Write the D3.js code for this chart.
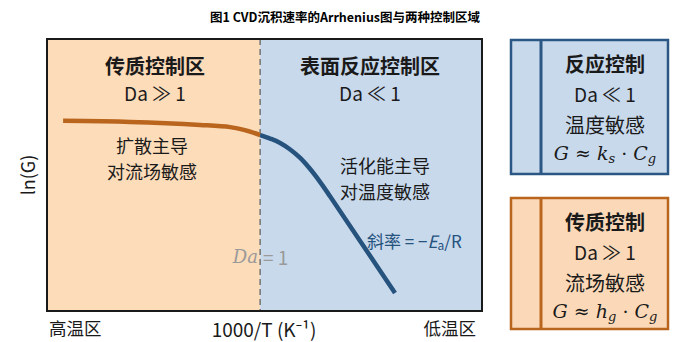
<!DOCTYPE html>
<html>
<head>
<meta charset="utf-8">
<script src="https://cdn.jsdelivr.net/npm/d3@7"></script>
<style>
  body { margin: 0; background: #fff; }
  svg { display: block; }
  text { font-family: "Noto Sans CJK SC", "Noto Sans", sans-serif; }
</style>
</head>
<body>
<div class="container"></div>
<script>
// data (arbitrary units: x = 1000/T, y = ln(G))
const transferCurve = [[3.7, 69.9], [19.1, 69.5], [35.2, 68.4], [42.1, 67.6], [45.5, 66.5], [49.0, 64.7]]
const reactionCurve = [[49.0, 64.7], [51.3, 63.4], [53.6, 61.8], [55.9, 59.4], [58.2, 56.3],
  [60.5, 52.2], [62.8, 47.4], [65.1, 42.1], [80.0, 6.6]]
const daOne = 49.0
const xLabels = ['高温区', '1000/T (K⁻¹)', '低温区']

const width = 689, height = 342
const svg = d3.select('.container').append('svg').attr('width', width).attr('height', height)

const x = d3.scaleLinear().domain([0, 100]).range([47, 482])
const y = d3.scaleLinear().domain([0, 100]).range([311, 39])

// title
svg.append('text').attr('x', 345).attr('y', 22).attr('text-anchor', 'middle')
  .style('font-size', '12.5px').style('font-weight', 'bold').text('图1 CVD沉积速率的Arrhenius图与两种控制区域')

// regions
svg.append('rect').attr('x', x(0)).attr('y', y(100)).attr('width', x(daOne) - x(0)).attr('height', y(0) - y(100))
  .attr('fill', '#fddcb9')
svg.append('rect').attr('x', x(daOne)).attr('y', y(100)).attr('width', x(100) - x(daOne)).attr('height', y(0) - y(100))
  .attr('fill', '#c8d9ec')
svg.append('line').attr('x1', x(daOne)).attr('x2', x(daOne)).attr('y1', y(100)).attr('y2', y(0))
  .attr('stroke', '#7a7a7a').attr('stroke-width', 1.6).attr('stroke-dasharray', '6,4')

// curves
const line = d3.line().x(d => x(d[0])).y(d => y(d[1])).curve(d3.curveCatmullRom)
svg.append('path').attr('d', line(transferCurve)).attr('fill', 'none')
  .attr('stroke', '#b9651d').attr('stroke-width', 4.5)
svg.append('path').attr('d', line(reactionCurve)).attr('fill', 'none')
  .attr('stroke', '#26527e').attr('stroke-width', 4.5)

// frame
svg.append('rect').attr('x', x(0)).attr('y', y(100)).attr('width', x(100) - x(0)).attr('height', y(0) - y(100))
  .attr('fill', 'none').attr('stroke', '#1a1a1a').attr('stroke-width', 2)

function label(tx, ty, str, size, opts) {
  opts = opts || {}
  return svg.append('text').attr('x', tx).attr('y', ty).attr('text-anchor', opts.anchor || 'middle')
    .attr('dominant-baseline', 'central')
    .style('font-size', size + 'px').style('font-weight', opts.bold ? 'bold' : 'normal')
    .attr('fill', opts.fill || '#1a1a1a').text(str)
}

// region texts
label(155, 65, '传质控制区', 20, {bold: true})
label(155, 92, 'Da ≫ 1', 19)
label(152, 145, '扩散主导', 18)
label(152, 171, '对流场敏感', 18)

label(370, 65, '表面反应控制区', 20, {bold: true})
label(370, 92, 'Da ≪ 1', 19)
label(385, 165, '活化能主导', 18)
label(385, 191, '对温度敏感', 18)

// slope label
const slope = svg.append('text').attr('x', 367).attr('y', 240).attr('dominant-baseline', 'central')
  .style('font-size', '17px').attr('fill', '#26527e')
slope.append('tspan').text('斜率 = −')
slope.append('tspan').style('font-style', 'italic').text('E')
slope.append('tspan').attr('dy', 4).style('font-size', '12px').text('a')
slope.append('tspan').attr('dy', -4).text('/R')

// Da = 1 (dashed line runs between "Da" and "= 1")
label(258, 256, 'Da', 18, {anchor: 'end', fill: '#9a9a9a'})
  .style('font-family', '"DejaVu Serif", serif').style('font-style', 'italic')
label(263, 256, '= 1', 19, {anchor: 'start', fill: '#9a9a9a'})

// axis labels
label(49, 327, xLabels[0], 17.5, {anchor: 'start'})
label(264, 328, xLabels[1], 19)
label(476, 327, xLabels[2], 17.5, {anchor: 'end'})
svg.append('text').attr('transform', 'translate(27,175) rotate(-90)').attr('text-anchor', 'middle')
  .attr('dominant-baseline', 'central').style('font-size', '18px').attr('fill', '#1a1a1a').text('ln(G)')

// side boxes
function box(top, bottom, fill, stroke, lines, sub) {
  svg.append('rect').attr('x', 511).attr('y', top).attr('width', 157).attr('height', bottom - top)
    .attr('fill', fill).attr('stroke', stroke).attr('stroke-width', 2.5)
  svg.append('line').attr('x1', 541).attr('x2', 541).attr('y1', top).attr('y2', bottom)
    .attr('stroke', stroke).attr('stroke-width', 3)
  const cx = 605
  label(cx, top + 23, lines[0], 20, {bold: true})
  label(cx, top + 53, lines[1], 19)
  label(cx, top + 84, lines[2], 20)
  const f = svg.append('text').attr('x', cx).attr('y', top + 113).attr('text-anchor', 'middle')
    .attr('dominant-baseline', 'central').style('font-size', '19px').attr('fill', '#1a1a1a')
    .style('font-family', '"DejaVu Serif", serif')
  f.append('tspan').style('font-style', 'italic').text('G')
  f.append('tspan').text(' ≈ ')
  f.append('tspan').style('font-style', 'italic').text(sub[0])
  f.append('tspan').attr('dy', 5).style('font-size', '13px').style('font-style', 'italic').text(sub[1])
  f.append('tspan').attr('dy', -5).text(' · ')
  f.append('tspan').style('font-style', 'italic').text('C')
  f.append('tspan').attr('dy', 5).style('font-size', '13px').style('font-style', 'italic').text('g')
}
box(40, 174, '#c8d9ec', '#2a5784', ['反应控制', 'Da ≪ 1', '温度敏感'], ['k', 's'])
box(198, 329, '#fbd9b8', '#b9651d', ['传质控制', 'Da ≫ 1', '流场敏感'], ['h', 'g'])
</script>
</body>
</html>
